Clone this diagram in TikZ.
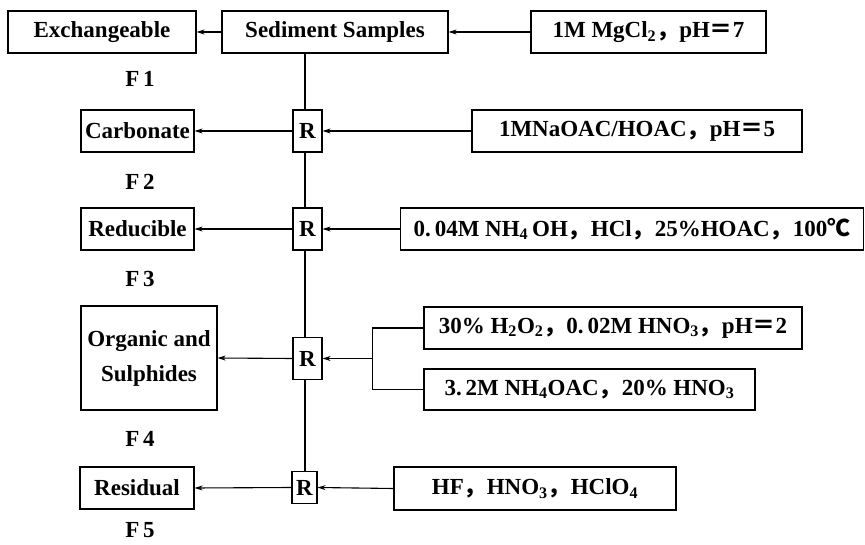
\documentclass[tikz,border=0pt]{standalone}
\usepackage{fontspec}
\setmainfont{Liberation Serif}
\newfontfamily\mainf{Liberation Serif}
\newfontfamily\cjk{Noto Sans CJK SC}
\usetikzlibrary{arrows.meta}
\newcommand{\fc}{{\cjk\bfseries ，}}
\newcommand{\eq}{{\cjk ＝}}
\newcommand{\sub}[1]{\textsubscript{#1}}
\begin{document}
\begin{tikzpicture}[x=1pt,y=-1pt,
  every node/.style={font=\fontsize{23}{35}\selectfont\mainf\bfseries},
  box/.style={draw,line width=1.2pt,inner sep=0pt,align=center},
  rbox/.style={box,minimum width=29pt,minimum height=42pt},
  lab/.style={inner sep=0pt},
  conn/.style={line width=1.1pt},
  arr/.style={conn,-{Stealth[length=8pt,width=5pt]}}]
\useasboundingbox (0,0) rectangle (865,545);
\coordinate (sp) at (305,0);
% top row
\node[box,minimum width=188pt,minimum height=42pt] (exch) at (102,32) {Exchangeable};
\node[box,minimum width=226pt,minimum height=42pt] (sed) at (335,32) {Sediment Samples};
\node[box,minimum width=235pt,minimum height=42pt] (mg) at (648.5,32) {1M MgCl\sub{2}\fc pH\eq 7};
\node[lab] (f1) at (140,79) {F\,1};
% row 2
\node[rbox] (r1) at (307.5,131) {R};
\node[box,minimum width=113pt,minimum height=42pt] (carb) at (137.5,131) {Carbonate};
\node[box,minimum width=330pt,minimum height=42pt] (na) at (637,131) {1MNaOAC/HOAC\fc pH\eq 5};
\node[lab] (f2) at (140,182) {F\,2};
% row 3
\node[rbox] (r2) at (307.5,229) {R};
\node[box,minimum width=113pt,minimum height=42pt] (red) at (137.5,229) {Reducible};
\node[box,minimum width=463pt,minimum height=42pt] (nh) at (632,229) {0.\,04M NH\sub{4}\,OH\fc HCl\fc 25\%HOAC\fc 100{\cjk ℃}};
\node[lab] (f3) at (140,279) {F\,3};
% row 4
\node[rbox] (r3) at (307.5,358.5) {R};
\node[box,minimum width=136pt,minimum height=104pt] (org) at (149,358) {Organic and\\Sulphides};
\node[box,minimum width=378pt,minimum height=42pt] (h2o2) at (613,328) {30\% H\sub{2}O\sub{2}\fc 0.\,02M HNO\sub{3}\fc pH\eq 2};
\node[box,minimum width=331pt,minimum height=41pt] (nh4oac) at (589.5,389.5) {3.\,2M NH\sub{4}OAC\fc 20\% HNO\sub{3}};
\coordinate (br) at (372.5,358.5);
\node[lab] (f4) at (140,439) {F\,4};
% row 5
\node[box,minimum width=25pt,minimum height=32pt] (r4) at (304.5,487.5) {R};
\node[box,minimum width=114pt,minimum height=42pt] (res) at (137,488) {Residual};
\node[box,minimum width=282pt,minimum height=43pt] (hf) at (535,488.5) {HF\fc HNO\sub{3}\fc HClO\sub{4}};
\node[lab] (f5) at (140,530) {F\,5};
% connectors
\draw[arr] (sed.west) -- (exch.east);
\draw[arr] (mg.west) -- (sed.east);
\draw[conn] (sed.south -| sp) -- (r1.north -| sp);
\draw[conn] (r1.south -| sp) -- (r2.north -| sp);
\draw[conn] (r2.south -| sp) -- (r3.north -| sp);
\draw[conn] (r3.south -| sp) -- (r4.north -| sp);
\draw[arr] (r1.west) -- (carb.east);
\draw[arr] (na.west) -- (r1.east);
\draw[arr] (r2.west) -- (red.east);
\draw[arr] (nh.west) -- (r2.east);
\draw[arr] (r3.west) -- (org.east);
\draw[conn] (h2o2.west) -| (br) |- (nh4oac.west);
\draw[arr] (br) -- (r3.east);
\draw[arr] (r4.west) -- (res.east);
\draw[arr] (hf.west) -- (r4.east);
\end{tikzpicture}
\end{document}
